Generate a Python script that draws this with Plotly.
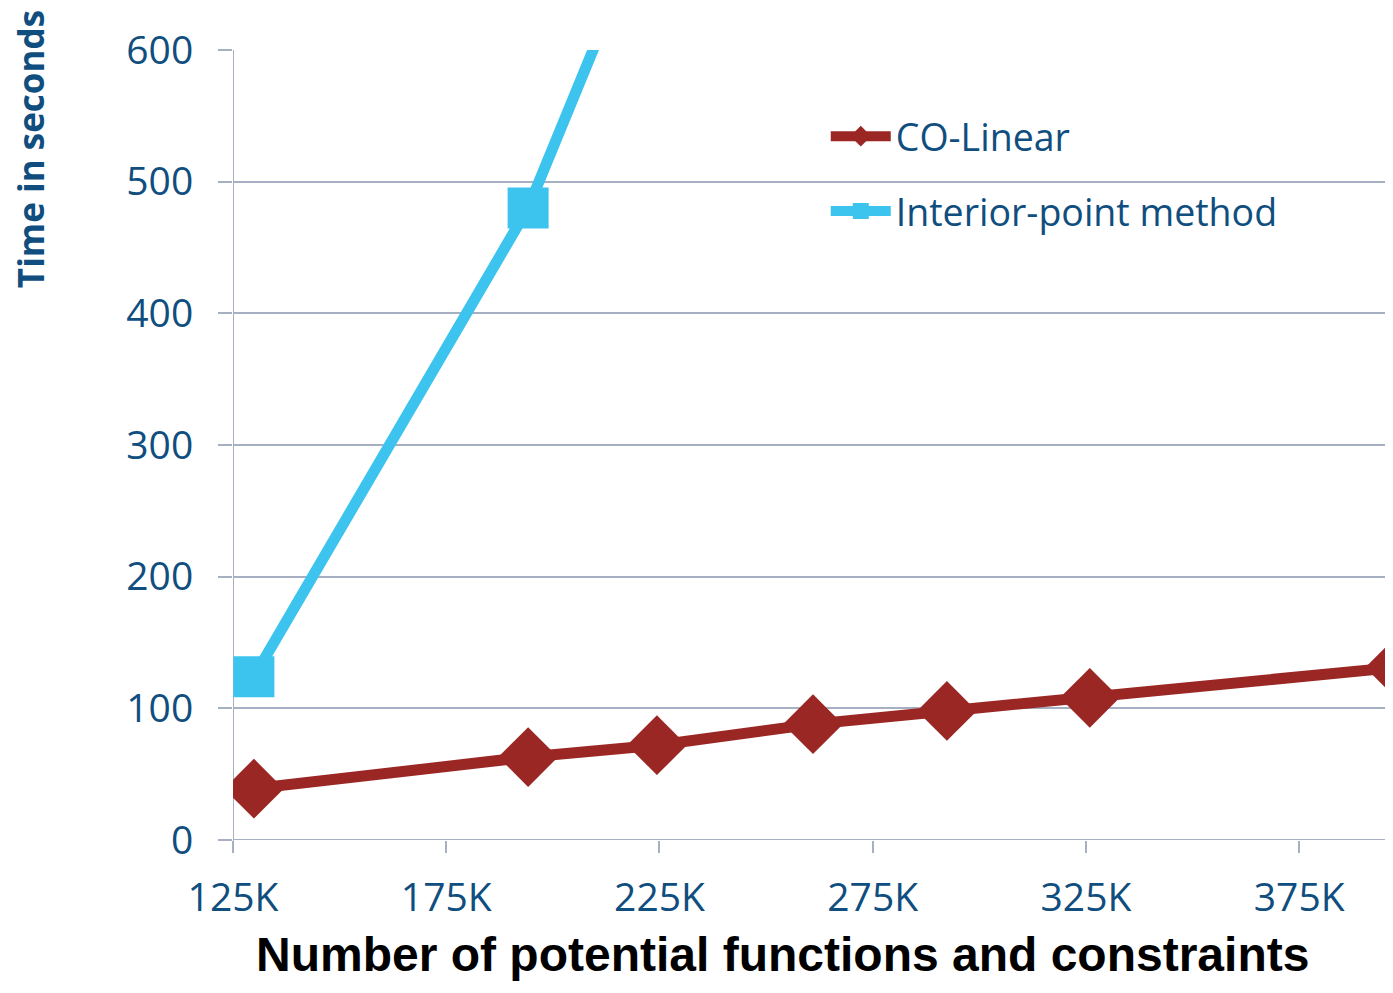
import plotly.graph_objects as go

# Data (x = number of potential functions and constraints, y = seconds)
co_linear_x = [129900, 194200, 224400, 261000, 292400, 325900, 397500]
co_linear_y = [39, 63, 72, 88, 98, 108, 131]
ipm_x = [129900, 194200, 224400]
ipm_y = [124, 480, 718]

x_tick_vals = [125000, 175000, 225000, 275000, 325000, 375000]
x_tick_text = ["125K", "175K", "225K", "275K", "325K", "375K"]
y_tick_vals = [0, 100, 200, 300, 400, 500, 600]

RED = "#9B2724"
BLUE = "#3DC4EE"
NAVY = "#0F4E7E"
GRID = "#A7AFC2"
FONT = "Open Sans"

fig = go.Figure()
fig.add_trace(go.Scatter(
    x=co_linear_x, y=co_linear_y, mode="lines+markers", name="CO-Linear",
    line=dict(color=RED, width=11),
    marker=dict(symbol="diamond", size=46, color=RED),
    legendgroup="a", cliponaxis=True,
))
fig.add_trace(go.Scatter(
    x=ipm_x, y=ipm_y, mode="lines+markers", name="Interior-point method",
    line=dict(color=BLUE, width=11),
    marker=dict(symbol="square", size=41, color=BLUE),
    legendgroup="b", cliponaxis=True,
))

fig.update_layout(
    width=1385, height=977,
    margin=dict(l=225, r=0, t=42, b=145, autoexpand=False),
    paper_bgcolor="white", plot_bgcolor="white",
    font=dict(family=FONT, color=NAVY, size=38),
    showlegend=True,
    legend=dict(x=0.511, y=0.93, xanchor="left", yanchor="top",
                bgcolor="rgba(0,0,0,0)", tracegroupgap=23,
                font=dict(family=FONT, size=37.5, color=NAVY),
                itemwidth=60),
    xaxis=dict(range=[125000, 397000], tickvals=x_tick_vals, ticktext=x_tick_text,
               showgrid=False, zeroline=False, showline=False,
               ticks="outside", ticklen=12, tickcolor=GRID, tickwidth=2,
               ticklabelstandoff=11,
               tickfont=dict(family=FONT, size=39, color=NAVY)),
    yaxis=dict(range=[0, 600], tickvals=y_tick_vals,
               showgrid=True, gridcolor=GRID, gridwidth=2,
               zeroline=False, showline=False,
               ticks="outside", ticklen=14, tickcolor=GRID, tickwidth=2,
               ticklabelstandoff=17,
               tickfont=dict(family=FONT, size=39, color=NAVY)),
    shapes=[
        dict(type="line", xref="x", yref="paper", x0=125000, x1=125000, y0=-0.015, y1=1,
             line=dict(color=GRID, width=2), layer="below"),
        dict(type="line", xref="paper", yref="y", x0=0, x1=1, y0=0, y1=0,
             line=dict(color=GRID, width=2), layer="below"),
    ],
    annotations=[
        dict(text="<b>Time in seconds</b>", textangle=-90, xref="paper", yref="paper",
             x=-0.175, y=1.053, xanchor="center", yanchor="top", showarrow=False,
             font=dict(family=FONT, size=35, color=NAVY)),
        dict(text="<b>Number of potential functions and constraints</b>",
             xref="paper", yref="paper", x=0.4735, y=-0.181, xanchor="center", yanchor="bottom",
             showarrow=False,
             font=dict(family="Liberation Sans", size=48, color="black")),
    ],
)

fig.write_html("out.html")
